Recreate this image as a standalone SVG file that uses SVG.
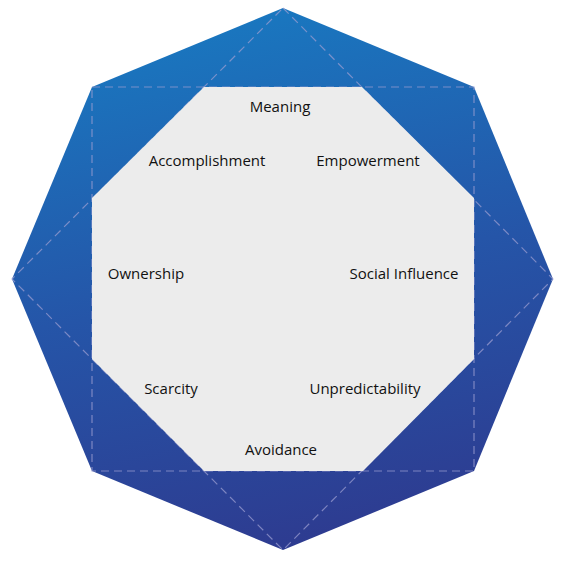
<svg xmlns="http://www.w3.org/2000/svg" width="568" height="564" viewBox="0 0 568 564">
  <defs>
    <linearGradient id="blueGrad" gradientUnits="userSpaceOnUse" x1="230" y1="8" x2="340" y2="550">
      <stop offset="0" stop-color="#1978c0"/>
      <stop offset="0.5" stop-color="#2555a8"/>
      <stop offset="1" stop-color="#2e3a8f"/>
    </linearGradient>
  </defs>
  <style>
    .outer { fill: url(#blueGrad); }
    .inner { fill: #ececec; }
    .dash { fill: none; stroke: #9a9cd0; stroke-opacity: 0.75; stroke-width: 1.2; stroke-dasharray: 8 5; }
    .label { font-family: "Open Sans", "Noto Sans", "Liberation Sans", sans-serif; font-size: 15px; fill: #111111; text-anchor: middle; }
  </style>
  <rect width="568" height="564" fill="#ffffff"/>
  <g id="background">
    <polygon class="outer" points="283,8 474,87 553,279 474,471 283,550 92,471 12,279 92,87"/>
  </g>
  <g id="connectors">
    <rect class="dash" x="92" y="87" width="382" height="384"/>
    <polygon class="dash" points="283,8 553,279 283,550 12,279"/>
  </g>
  <g id="center">
    <polygon class="inner" points="204,87 362,87 474,198 474,359 363,471 204,471 92,359 92,198"/>
  </g>
  <g id="node-meaning"><text class="label" x="280" y="112">Meaning</text></g>
  <g id="node-accomplishment"><text class="label" x="207" y="166">Accomplishment</text></g>
  <g id="node-empowerment"><text class="label" x="368" y="166">Empowerment</text></g>
  <g id="node-ownership"><text class="label" x="146" y="279">Ownership</text></g>
  <g id="node-social-influence"><text class="label" x="404" y="279">Social Influence</text></g>
  <g id="node-scarcity"><text class="label" x="171" y="394">Scarcity</text></g>
  <g id="node-unpredictability"><text class="label" x="365" y="394">Unpredictability</text></g>
  <g id="node-avoidance"><text class="label" x="281" y="455">Avoidance</text></g>
</svg>
